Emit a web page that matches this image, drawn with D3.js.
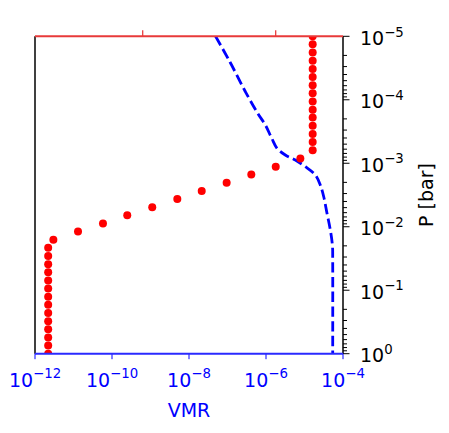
<!DOCTYPE html>
<html><head><meta charset="utf-8">
<script src="https://cdn.jsdelivr.net/npm/d3@7"></script>
<style>
html,body{margin:0;padding:0;background:#fff;}
svg{display:block;font-family:"DejaVu Sans",sans-serif;}
</style></head>
<body><svg id="c" width="449" height="433"></svg>
<script>
// ---- data ----
const dotPressure = [1.00e-5,1.34e-5,1.80e-5,2.43e-5,3.26e-5,4.38e-5,5.88e-5,7.90e-5,1.06e-4,1.43e-4,
  1.91e-4,2.57e-4,3.46e-4,4.64e-4,6.24e-4,8.38e-4,1.13e-3,1.51e-3,2.03e-3,2.73e-3,
  3.67e-3,4.92e-3,6.62e-3,8.89e-3,1.19e-2,1.60e-2,2.15e-2,2.90e-2,3.89e-2,5.22e-2,
  7.02e-2,9.42e-2,1.27e-1,1.70e-1,2.29e-1,3.07e-1,4.12e-1,5.54e-1,7.44e-1,1.00];
const dotVMR = [1.63e-5,1.63e-5,1.63e-5,1.63e-5,1.63e-5,1.63e-5,1.63e-5,1.63e-5,1.63e-5,1.63e-5,
  1.63e-5,1.63e-5,1.63e-5,1.63e-5,1.63e-5,7.8e-6,1.79e-6,4.15e-7,9.5e-8,2.14e-8,
  4.97e-9,1.11e-9,2.49e-10,5.83e-11,1.31e-11,3.0e-12,2.2e-12,2.2e-12,2.2e-12,2.2e-12,
  2.2e-12,2.2e-12,2.2e-12,2.2e-12,2.2e-12,2.2e-12,2.2e-12,2.2e-12,2.2e-12,2.2e-12];
const linePressure = [1e-5,2.54e-5,7.28e-5,1.61e-4,2.49e-4,4.0e-4,5.81e-4,7.41e-4,8.89e-4,1.13e-3,
  1.53e-3,2.20e-3,3.37e-3,6.14e-3,1.12e-2,2.01e-2,3.34e-2,1.0];
const lineVMR = [4.9e-8,1.16e-7,2.85e-7,6.0e-7,9.6e-7,1.4e-6,1.93e-6,3.17e-6,5.77e-6,1.05e-5,
  1.91e-5,2.57e-5,3.16e-5,3.84e-5,4.68e-5,5.33e-5,5.4e-5,5.4e-5];
const xTicks = [1e-12,1e-10,1e-8,1e-6,1e-4];
const xTickExp = ["−12","−10","−8","−6","−4"];
const yTicks = [1e-5,1e-4,1e-3,1e-2,1e-1,1];
const yTickExp = ["−5","−4","−3","−2","−1","0"];
const topDomain = [95, 1253];
const topTicks = [500, 1000];

// ---- layout ----
const L = 35, R = 343, T = 36.3, B = 353.7;
const svg = d3.select("#c");
const x = d3.scaleLog().domain([1e-12,1e-4]).range([L,R]);
const y = d3.scaleLog().domain([1e-5,1]).range([T,B]);
const xTop = d3.scaleLinear().domain(topDomain).range([L,R]);

svg.append("defs").append("clipPath").attr("id","clip")
  .append("rect").attr("x",L).attr("y",T).attr("width",R-L).attr("height",B-T);

const plot = svg.append("g").attr("clip-path","url(#clip)");

// dashed line
const lineData = lineVMR.map((v,i)=>[v,linePressure[i]]);
plot.append("path").datum(lineData)
  .attr("d", d3.line().x(d=>x(d[0])).y(d=>y(d[1])).curve(d3.curveCatmullRom.alpha(0.5)))
  .attr("fill","none").attr("stroke","#0000ff").attr("stroke-width",2.8)
  .attr("stroke-dasharray","10.3,4.4");

// dots
plot.selectAll("circle").data(dotVMR.map((v,i)=>[v,dotPressure[i]])).join("circle")
  .attr("cx",d=>x(d[0])).attr("cy",d=>y(d[1])).attr("r",4).attr("fill","#ff0000");

// right axis ticks (major + minor)
const minor = [];
for (let e=-5;e<0;e++) for (let m=2;m<=9;m++) minor.push(m*Math.pow(10,e));
const ra = svg.append("g");
ra.selectAll("line.mi").data(minor).join("line")
  .attr("x1",R).attr("x2",R+4).attr("y1",d=>y(d)).attr("y2",d=>y(d))
  .attr("stroke","#000").attr("stroke-width",1);
ra.selectAll("line.ma").data(yTicks).join("line")
  .attr("x1",R).attr("x2",R+6.5).attr("y1",d=>y(d)).attr("y2",d=>y(d))
  .attr("stroke","#000").attr("stroke-width",1);
yTicks.forEach((t,i)=>{
  const tx = ra.append("text").attr("x",360).attr("y",y(t)+8.5)
    .attr("font-size",19).attr("fill","#000");
  tx.append("tspan").text("10");
  tx.append("tspan").attr("dy",-8.3).attr("font-size",13.3).text(yTickExp[i]);
});

// bottom axis
const ba = svg.append("g");
ba.selectAll("line").data(xTicks).join("line")
  .attr("x1",d=>x(d)).attr("x2",d=>x(d)).attr("y1",B).attr("y2",B+5.5)
  .attr("stroke","#0000ff").attr("stroke-width",1);
xTicks.forEach((t,i)=>{
  const tx = ba.append("text").attr("x",x(t)).attr("y",386.5)
    .attr("text-anchor","middle").attr("font-size",19).attr("fill","#0000ff");
  tx.append("tspan").text("10");
  tx.append("tspan").attr("dy",-8.3).attr("font-size",13.3).text(xTickExp[i]);
});

// top axis ticks
svg.selectAll("line.top").data(topTicks).join("line")
  .attr("x1",d=>xTop(d)).attr("x2",d=>xTop(d)).attr("y1",T).attr("y2",T-6)
  .attr("stroke","#e83030").attr("stroke-width",1.2);

// spines
svg.append("line").attr("x1",L).attr("x2",L).attr("y1",T).attr("y2",B).attr("stroke","#000").attr("stroke-width",1.5);
svg.append("line").attr("x1",R).attr("x2",R).attr("y1",T).attr("y2",B).attr("stroke","#000").attr("stroke-width",1.5);
svg.append("line").attr("x1",L).attr("x2",R).attr("y1",B).attr("y2",B).attr("stroke","#2a2aff").attr("stroke-width",2);
svg.append("line").attr("x1",L).attr("x2",R).attr("y1",T).attr("y2",T).attr("stroke","#e83a3a").attr("stroke-width",2);

// labels
svg.append("text").attr("x",(L+R)/2).attr("y",417).attr("text-anchor","middle")
  .attr("font-size",19).attr("fill","#0000ff").text("VMR");
svg.append("text").attr("transform",`translate(433,${(T+B)/2}) rotate(-90)`)
  .attr("text-anchor","middle").attr("font-size",19).attr("fill","#000").text("P [bar]");
</script></body></html>
